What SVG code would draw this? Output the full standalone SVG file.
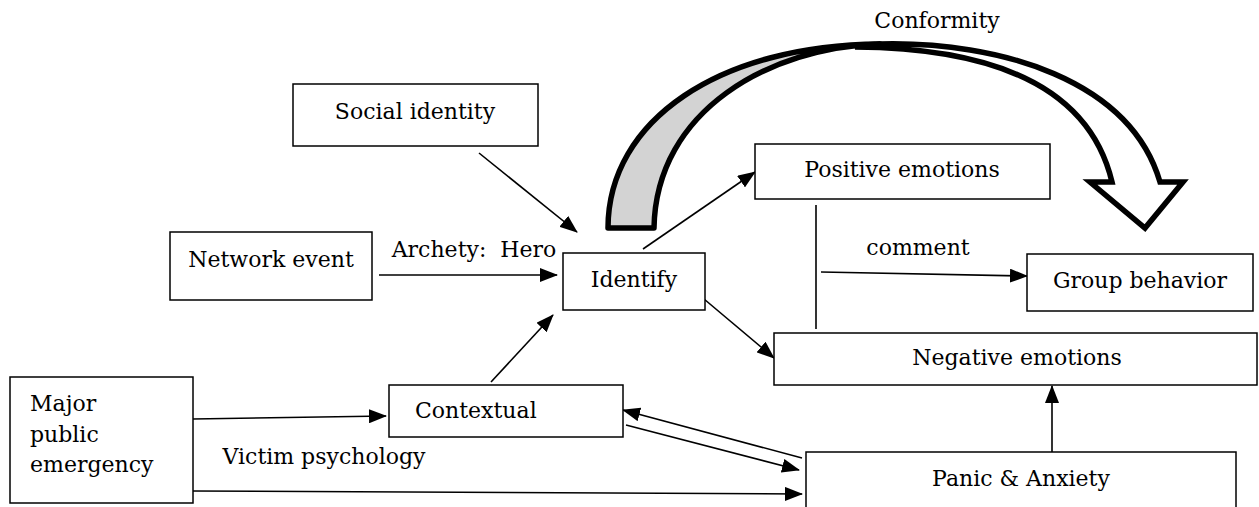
<svg xmlns="http://www.w3.org/2000/svg" width="1259" height="507" viewBox="0 0 1259 507">
<defs>
<style>
.box{fill:#fff;stroke:#000;stroke-width:1.5}
.t{font-family:"DejaVu Serif","Liberation Serif",serif;font-size:22px;fill:#000;white-space:pre}
.c{stroke:#000;stroke-width:1.6;fill:none}
</style>
<marker id="ah" markerUnits="userSpaceOnUse" markerWidth="18" markerHeight="14" refX="17" refY="7" orient="auto">
<path d="M0,0 L18,7 L0,14 Z" fill="#000"/>
</marker>
</defs>
<rect width="1259" height="507" fill="#fff"/>
<g id="conformity">
<path d="M608,228 C608,120 720,45 880,44 C770,47 656,110 654,228 Z" fill="#d3d3d3" stroke="#000" stroke-width="5.5" stroke-linejoin="round"/>
<path d="M880,44 C1000,41 1130,80 1160,182 L1183,182 L1145,228 L1090,182 L1112,182 C1090,90 1000,48 855,47 C865,45 872,44 880,44 Z" fill="#fff" stroke="#000" stroke-width="5.5" stroke-linejoin="miter"/>
<text class="t" x="937" y="28" text-anchor="middle">Conformity</text>
</g>
<g id="connectors">
<line class="c" x1="479" y1="153" x2="577" y2="232" marker-end="url(#ah)"/>
<line class="c" x1="379" y1="275" x2="557" y2="275" marker-end="url(#ah)"/>
<line class="c" x1="491" y1="382" x2="553" y2="315" marker-end="url(#ah)"/>
<line class="c" x1="643" y1="249" x2="755" y2="172" marker-end="url(#ah)"/>
<line class="c" x1="704" y1="299" x2="774" y2="358" marker-end="url(#ah)"/>
<line class="c" x1="816" y1="205" x2="816" y2="329"/>
<line class="c" x1="821" y1="272" x2="1027" y2="276" marker-end="url(#ah)"/>
<line class="c" x1="193" y1="419" x2="386" y2="416" marker-end="url(#ah)"/>
<line class="c" x1="802" y1="458" x2="623" y2="410" marker-end="url(#ah)"/>
<line class="c" x1="626" y1="425" x2="799" y2="470" marker-end="url(#ah)"/>
<line class="c" x1="192" y1="491" x2="802" y2="494" marker-end="url(#ah)"/>
<line class="c" x1="1052" y1="457" x2="1052" y2="386" marker-end="url(#ah)"/>
<text class="t" x="474" y="257" text-anchor="middle" xml:space="preserve">Archety:  Hero</text>
<text class="t" x="918" y="255" text-anchor="middle">comment</text>
<text class="t" x="324" y="464" text-anchor="middle">Victim psychology</text>
</g>
<g id="social-identity">
<rect class="box" x="293" y="84" width="245" height="62"/>
<text class="t" x="415" y="119" text-anchor="middle">Social identity</text>
</g>
<g id="network-event">
<rect class="box" x="170" y="232" width="202" height="68"/>
<text class="t" x="271" y="267" text-anchor="middle">Network event</text>
</g>
<g id="identify">
<rect class="box" x="563" y="253" width="142" height="57"/>
<text class="t" x="634" y="287" text-anchor="middle">Identify</text>
</g>
<g id="positive-emotions">
<rect class="box" x="755" y="144" width="295" height="55"/>
<text class="t" x="902" y="177" text-anchor="middle">Positive emotions</text>
</g>
<g id="group-behavior">
<rect class="box" x="1027" y="254" width="226" height="57"/>
<text class="t" x="1140" y="288" text-anchor="middle">Group behavior</text>
</g>
<g id="negative-emotions">
<rect class="box" x="774" y="333" width="483" height="52"/>
<text class="t" x="1017" y="365" text-anchor="middle">Negative emotions</text>
</g>
<g id="major-public-emergency">
<rect class="box" x="10" y="377" width="183" height="126"/>
<text class="t" x="30" y="411">Major</text>
<text class="t" x="30" y="442">public</text>
<text class="t" x="30" y="472">emergency</text>
</g>
<g id="contextual">
<rect class="box" x="389" y="385" width="234" height="52"/>
<text class="t" x="415" y="418">Contextual</text>
</g>
<g id="panic-anxiety">
<rect class="box" x="806" y="452" width="430" height="60"/>
<text class="t" x="1021" y="486" text-anchor="middle">Panic &amp; Anxiety</text>
</g>
</svg>
